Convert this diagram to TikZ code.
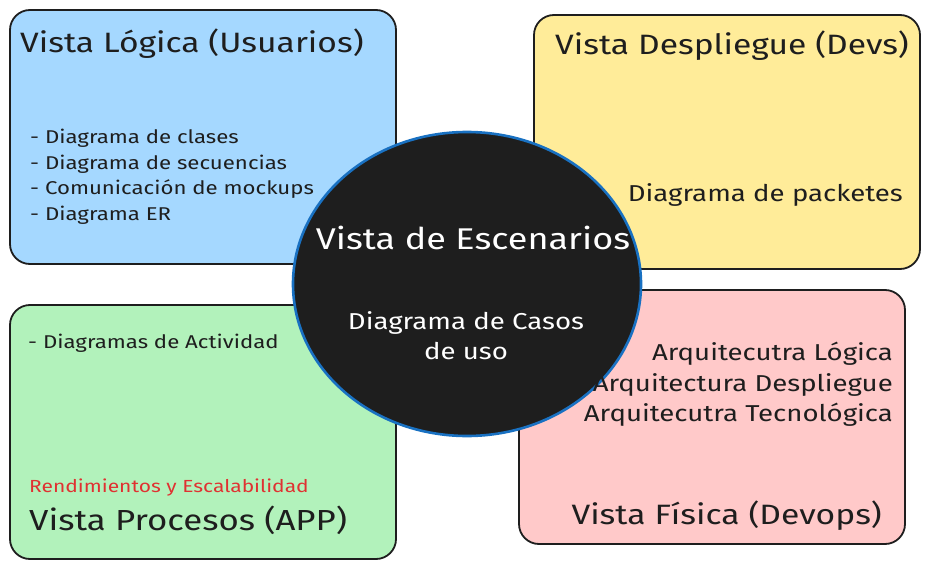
\documentclass[tikz,border=0pt]{standalone}
\usepackage{fontspec}
\setmainfont[FakeStretch=1.2]{Fira Sans}
\usepackage{xcolor}
\usepackage{tikz}
\usetikzlibrary{shapes.geometric,positioning}
\definecolor{inkblack}{HTML}{1E1E1E}
\definecolor{logicblue}{HTML}{A5D8FF}
\definecolor{deployyellow}{HTML}{FFEC99}
\definecolor{processgreen}{HTML}{B2F2BB}
\definecolor{physicalpink}{HTML}{FFC9C9}
\definecolor{scenarioblue}{HTML}{1971C2}
\definecolor{alertred}{HTML}{E03131}
\tikzset{
  viewbox/.style={draw=inkblack, line width=1.8pt, rounded corners=20pt,
    minimum width=386pt, minimum height=254pt, inner sep=0pt},
  bigtext/.style={font=\fontsize{28}{32}\selectfont, text=inkblack, inner sep=0pt},
  midtext/.style={font=\fontsize{23}{26}\selectfont, text=inkblack, inner sep=0pt},
  smalltext/.style={font=\fontsize{18.5}{22}\selectfont, text=inkblack, inner sep=0pt}
}

\begin{document}
\begin{tikzpicture}[x=1pt,y=-1pt]
  \useasboundingbox (0,0) rectangle (930,570);
  % the four views
  \node[viewbox, fill=logicblue] (logic) at (203,137) {};
  \node[viewbox, fill=deployyellow] (deploy) at (727,142) {};
  \node[viewbox, fill=processgreen] (process) at (203,432) {};
  \node[viewbox, fill=physicalpink] (physical) at (712,417) {};
  % scenarios in the middle
  \node[ellipse, draw=scenarioblue, line width=2.6pt, fill=inkblack,
    minimum width=348pt, minimum height=304pt] (scenario) at (467,284) {};

  % logical view
  \node[bigtext, anchor=base west] (logictitle) at (20,52) {Vista Lógica (Usuarios)};
  \foreach \item/\y [count=\i] in {Diagrama de clases/143, Diagrama de secuencias/169,
      Comunicación de mockups/194, Diagrama ER/220}
    \node[smalltext, anchor=base west] (logicitem\i) at (30,\y) {- \item};

  % deployment view
  \node[bigtext, anchor=base west] (deploytitle) at (555,54) {Vista Despliegue (Devs)};
  \node[midtext, anchor=base east] (deployitem) at (903,201) {Diagrama de packetes};

  % process view
  \node[smalltext, anchor=base west] (processitem) at (28,348) {- Diagramas de Actividad};
  \node[smalltext, font=\fontsize{17.5}{21}\selectfont, text=alertred, anchor=base west] (processnote) at (29,492) {Rendimientos y Escalabilidad};
  \node[bigtext, font=\fontsize{29}{33}\selectfont, anchor=base west] (processtitle) at (29,530) {Vista Procesos (APP)};

  % physical view
  \foreach \item/\y [count=\i] in {Arquitecutra Lógica/360, Arquitectura Despliegue/391,
      Arquitecutra Tecnológica/421}
    \node[midtext, anchor=base east] (physicalitem\i) at (893,\y) {\item};
  \node[bigtext, anchor=base east] (physicaltitle) at (882,524) {Vista Física (Devops)};

  % scenario text
  \node[bigtext, font=\fontsize{30}{34}\selectfont, text=white, anchor=base] (scenariotitle) at (473,249) {Vista de Escenarios};
  \node[midtext, text=white, anchor=base] (scenarioitem) at (466,329) {Diagrama de Casos};
  \node[midtext, text=white, anchor=base] (scenarioitemb) at (466,359) {de uso};
\end{tikzpicture}
\end{document}
